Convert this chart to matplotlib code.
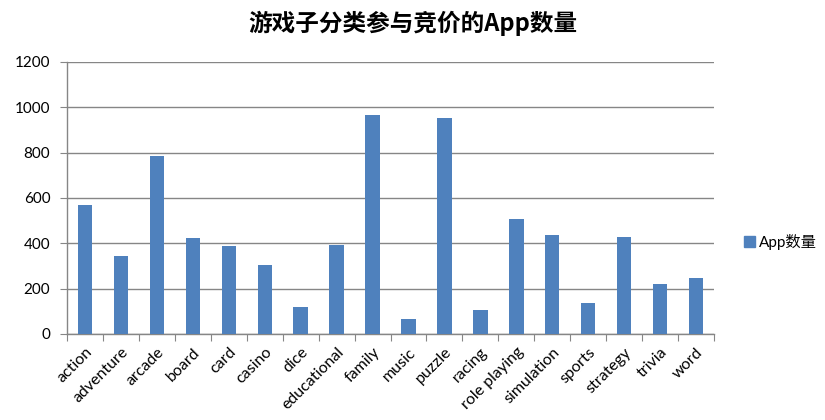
import matplotlib
matplotlib.use('Agg')
from matplotlib import pyplot as plt
from matplotlib.patches import Patch
import numpy as np

plt.rcParams['font.family'] = ['Lato', 'Noto Sans CJK SC', 'DejaVu Sans']

categorias = ['action', 'adventure', 'arcade', 'board', 'card', 'casino', 'dice',
              'educational', 'family', 'music', 'puzzle', 'racing', 'role playing',
              'simulation', 'sports', 'strategy', 'trivia', 'word']
num_app = [570, 345, 786, 424, 389, 305, 119, 393, 967, 66, 954, 106, 508,
           437, 137, 428, 221, 247]
yticks = [0, 200, 400, 600, 800, 1000, 1200]

azul = '#4f81bd'
gris = '#868686'

fig = plt.figure(figsize=(8.25, 4.2), dpi=100)
ax = fig.add_axes([0.0812, 0.2048, 0.7843, 0.6476])

x = np.arange(len(categorias))
ax.bar(x, num_app, width=0.4, color=azul, zorder=3)

ax.set_xlim(-0.5, len(categorias) - 0.5)
ax.set_ylim(0, 1200)
ax.set_yticks(yticks)
ax.set_yticklabels([str(v) for v in yticks], fontsize=11)
ax.yaxis.grid(True, color=gris, linewidth=1, zorder=0)

# ticks entre categorias, etiquetas en el centro
ax.set_xticks(np.arange(len(categorias) + 1) - 0.5)
ax.set_xticklabels([])
ax.set_xticks(x, minor=True)
ax.set_xticklabels(categorias, minor=True, rotation=45, ha='right', va='top',
                   rotation_mode='anchor', fontsize=11.5)
ax.tick_params(axis='x', which='major', length=5, color=gris, direction='out')
ax.tick_params(axis='x', which='minor', length=0, pad=8)
ax.tick_params(axis='y', length=5, color=gris, direction='out', pad=7)

for lado in ['top', 'right']:
    ax.spines[lado].set_visible(False)
for lado in ['left', 'bottom']:
    ax.spines[lado].set_color(gris)
    ax.spines[lado].set_linewidth(1)

fig.text(0.5, 0.945, '游戏子分类参与竞价的App数量', ha='center', va='center',
         fontsize=17, fontweight='bold', family=['Noto Sans CJK SC'])

fig.legend(handles=[Patch(color=azul, label='App数量')], loc='center left',
           bbox_to_anchor=(0.885, 0.425), frameon=False,
           handlelength=0.7, handleheight=0.7, handletextpad=0.3,
           prop={'family': ['Lato', 'Noto Sans CJK SC'], 'size': 11})

fig.savefig('out.png', dpi=100)
